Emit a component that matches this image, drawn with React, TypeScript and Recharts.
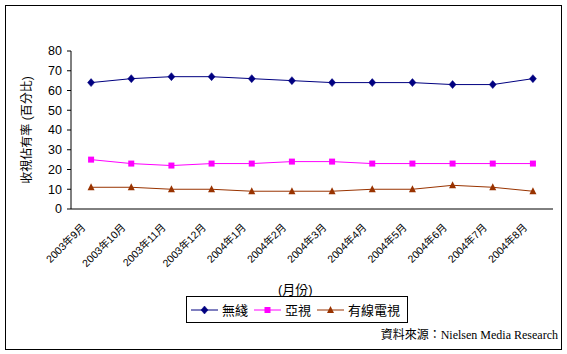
import React from 'react';
import { LineChart, Line, XAxis, YAxis, Legend } from 'recharts';

const months = [
  '2003年9月', '2003年10月', '2003年11月', '2003年12月', '2004年1月', '2004年2月',
  '2004年3月', '2004年4月', '2004年5月', '2004年6月', '2004年7月', '2004年8月',
];
const tvb = [64, 66, 67, 67, 66, 65, 64, 64, 64, 63, 63, 66];
const atv = [25, 23, 22, 23, 23, 24, 24, 23, 23, 23, 23, 23];
const cable = [11, 11, 10, 10, 9, 9, 9, 10, 10, 12, 11, 9];
const yTicks = [0, 10, 20, 30, 40, 50, 60, 70, 80];

const seriesNames = ['無綫', '亞視', '有線電視'];
const colors = ['#000080', '#FF00FF', '#993300'];

const chartData = months.map((m, i) => ({
  idx: i,
  month: m,
  tvb: tvb[i],
  atv: atv[i],
  cable: cable[i],
}));

const monthTicks = months.map((_, i) => i);
const boundaryTicks = months.map((_, i) => i + 0.5);

const FONT = '"Liberation Sans", "Noto Sans CJK TC", sans-serif';

const Marker = ({ kind, cx, cy, color }: { kind: number; cx: number; cy: number; color: string }) => {
  if (kind === 0) {
    return <path d={`M${cx},${cy - 4}L${cx + 3.5},${cy}L${cx},${cy + 4}L${cx - 3.5},${cy}Z`} fill={color} stroke={color} strokeWidth={0.5} />;
  }
  if (kind === 1) {
    return <rect x={cx - 3} y={cy - 3} width={6} height={6} fill={color} />;
  }
  return <path d={`M${cx},${cy - 4}L${cx + 3.5},${cy + 3}L${cx - 3.5},${cy + 3}Z`} fill={color} />;
};

const makeDot = (kind: number) => (props: any) => {
  const { cx, cy, index } = props;
  if (cx == null || cy == null) return <g key={index} />;
  return <Marker key={index} kind={kind} cx={cx} cy={cy} color={colors[kind]} />;
};

const MonthTick = (props: any) => {
  const { x, y, payload } = props;
  return (
    <g transform={`translate(${x - 5},${y + 19})`}>
      <text x={0} y={0} textAnchor="end" transform="rotate(-45)" fontSize={10.5} fill="#000" fontFamily={FONT}>
        {months[payload.value]}
      </text>
    </g>
  );
};

const LegendBox = () => (
  <div
    style={{
      border: '1px solid #000',
      width: 220,
      height: 25,
      display: 'flex',
      alignItems: 'center',
      fontFamily: FONT,
      fontSize: 13,
      background: '#fff',
    }}
  >
    {seriesNames.map((name, i) => (
      <div key={name} style={{ display: 'flex', alignItems: 'center', marginLeft: i === 0 ? 4 : 6 }}>
        <svg width={27} height={10}>
          <line x1={0} y1={5} x2={27} y2={5} stroke={colors[i]} strokeWidth={1} />
          <Marker kind={i} cx={13.5} cy={5} color={colors[i]} />
        </svg>
        <span style={{ marginLeft: 4 }}>{name}</span>
      </div>
    ))}
  </div>
);

export default function App() {
  return (
    <div style={{ position: 'absolute', left: 0, top: 0, width: 567, height: 354, background: '#fff' }}>
      <div
        style={{
          position: 'absolute',
          left: 5,
          top: 5,
          width: 555,
          height: 343,
          border: '1px solid #000',
        }}
      />
      <div style={{ position: 'absolute', left: 0, top: 0 }}>
        <LineChart
          width={567}
          height={354}
          data={chartData}
          margin={{ top: 51, right: 14, left: 5, bottom: 75 }}
        >
          <XAxis
            xAxisId="b"
            dataKey="idx"
            type="number"
            domain={[-0.5, 11.5]}
            ticks={boundaryTicks}
            height={0}
            mirror
            tick={false}
            tickSize={4}
            axisLine={false}
            tickLine={{ stroke: '#000' }}
          />
          <XAxis
            dataKey="idx"
            type="number"
            domain={[-0.5, 11.5]}
            ticks={monthTicks}
            interval={0}
            height={70}
            tickSize={0}
            tickMargin={0}
            tickLine={false}
            axisLine={{ stroke: '#000' }}
            tick={<MonthTick />}
          />
          <YAxis
            domain={[0, 80]}
            ticks={yTicks}
            interval={0}
            width={66}
            tickSize={4}
            tickMargin={5}
            axisLine={{ stroke: '#000' }}
            tickLine={{ stroke: '#000' }}
            tick={{ fill: '#000', fontSize: 12.5, fontFamily: FONT }}
            label={{
              value: '收視佔有率 (百分比)',
              angle: -90,
              position: 'insideLeft',
              offset: 22,
              style: { textAnchor: 'middle', fill: '#000', fontSize: 12, fontFamily: FONT },
            }}
          />
          <Legend
            layout="horizontal"
            verticalAlign="middle"
            content={<LegendBox />}
            wrapperStyle={{ left: 186, top: 296, width: 222, height: 27 }}
          />
          <Line dataKey="tvb" name={seriesNames[0]} stroke={colors[0]} strokeWidth={1} dot={makeDot(0)} activeDot={false} isAnimationActive={false} />
          <Line dataKey="atv" name={seriesNames[1]} stroke={colors[1]} strokeWidth={1} dot={makeDot(1)} activeDot={false} isAnimationActive={false} />
          <Line dataKey="cable" name={seriesNames[2]} stroke={colors[2]} strokeWidth={1} dot={makeDot(2)} activeDot={false} isAnimationActive={false} />
        </LineChart>
      </div>
      <div style={{ position: 'absolute', left: 278, top: 279, fontSize: 13, fontFamily: FONT }}>(月份)</div>
      <div
        style={{
          position: 'absolute',
          right: 9,
          top: 325,
          fontSize: 12,
          fontFamily: '"Liberation Serif", "Noto Sans CJK TC", serif',
          whiteSpace: 'nowrap',
        }}
      >
        資料來源：Nielsen Media Research
      </div>
    </div>
  );
}
